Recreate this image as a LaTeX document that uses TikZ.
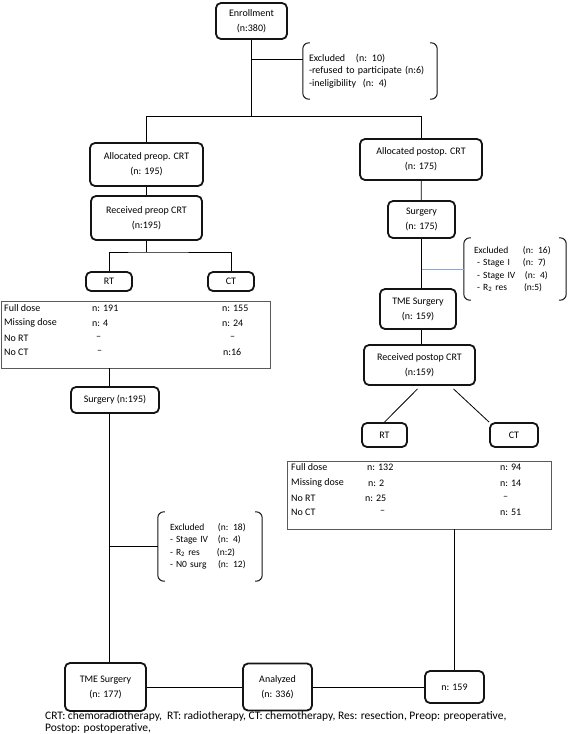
\documentclass[tikz,border=0pt]{standalone}
\usepackage{fontspec}
\setmainfont{Carlito}
\usepackage{tikz}
\definecolor{boxline}{RGB}{20,20,20}
\definecolor{tabline}{RGB}{90,90,90}
\definecolor{bluelink}{RGB}{140,168,206}

\tikzset{
  flowbox/.style={draw=boxline, line width=1.8pt, rounded corners=5pt, align=center,
    inner sep=2pt, font=\fontsize{10}{15}\selectfont},
  tabbox/.style={draw=tabline, line width=0.9pt, inner sep=0pt},
  excl/.style={align=left, inner ysep=0pt, font=\fontsize{9.5}{12.5}\selectfont},
  bracket/.style={draw=boxline, line width=1pt, rounded corners=6pt},
  cell/.style={anchor=west, inner sep=0pt, font=\fontsize{10}{12}\selectfont},
  lab/.style={cell},
  link/.style={black, line width=0.8pt},
}

% brackets on both sides of an exclusion note
\newcommand{\exclbrackets}[1]{%
  \draw[bracket] ([xshift=7pt]#1.north west) -- (#1.north west) -- (#1.south west) -- ([xshift=7pt]#1.south west);
  \draw[bracket] ([xshift=-7pt]#1.north east) -- (#1.north east) -- (#1.south east) -- ([xshift=-7pt]#1.south east);}

\begin{document}
\begin{tikzpicture}[x=1pt, y=-1pt]
    \useasboundingbox (0,0) rectangle (568,734);

    % top
    \node[flowbox, minimum width=71pt, minimum height=36pt] (enrol) at (251.5,21) {Enrollment\\(n:380)};
    \node[excl, font=\fontsize{10}{12.5}\selectfont, text width=122pt, inner xsep=6pt, minimum height=56pt] (exclTop) at (370,71)
        {\makebox[47pt][l]{Excluded}(n: 10)\\-refused to participate (n:6)\\-ineligibility\ \ (n: 4)};
    \exclbrackets{exclTop}
    \coordinate (split) at (251.5,116);
    \coordinate (exclTopIn) at (303,59);

    % preop arm
    \node[flowbox, minimum width=113pt, minimum height=43pt] (allocpre) at (146.5,164.5) {Allocated preop. CRT\\(n: 195)};
    \node[flowbox, minimum width=111pt, minimum height=44pt] (recvpre) at (146.5,218) {Received preop CRT\\(n:195)};
    \coordinate (lsplit) at (146.5,252);
    \node[flowbox, minimum width=46pt, minimum height=19pt] (rtL) at (109,281.5) {RT};
    \node[flowbox, minimum width=46pt, minimum height=19pt] (ctL) at (231,281.5) {CT};

    \node[tabbox, minimum width=269pt, minimum height=67pt] (tabL) at (135.5,334.5) {};
    \node[lab] (lFull) at (4,308) {Full dose};
    \node[lab] (lMiss) at (4,323) {Missing dose};
    \node[lab] (lNoRT) at (4,338) {No RT};
    \node[lab] (lNoCT) at (4,352) {No CT};
    \node[cell] (lFullRT) at (92,308) {n: 191};
    \node[cell] (lMissRT) at (92,323) {n: 4};
    \node[cell] (lNoRTRT) at (96,338) {\textendash};
    \node[cell] (lNoCTRT) at (97,352) {\textendash};
    \node[cell] (lFullCT) at (222,308) {n: 155};
    \node[cell] (lMissCT) at (222,323) {n: 24};
    \node[cell] (lNoRTCT) at (230,338) {\textendash};
    \node[cell] (lNoCTCT) at (223,352) {n:16};

    \node[flowbox, minimum width=88pt, minimum height=26pt] (surgL) at (115,400) {Surgery (n:195)};
    \node[excl, text width=80pt, inner xsep=12pt, minimum height=69pt] (exclL) at (210,546.5)
        {\makebox[48pt][l]{Excluded}(n: 18)\\\makebox[48pt][l]{- Stage IV}(n: 4)\\\makebox[47pt][l]{- R\textsubscript{2} res}(n:2)\\\makebox[48pt][l]{- N0 surg}(n: 12)};
    \exclbrackets{exclL}
    \node[flowbox, minimum width=81pt, minimum height=48pt] (tmeL) at (105.5,687) {TME Surgery\\(n: 177)};

    % postop arm
    \node[flowbox, minimum width=122pt, minimum height=41pt] (allocpost) at (421,159.5) {Allocated postop. CRT\\(n: 175)};
    \node[flowbox, minimum width=67pt, minimum height=37pt] (surgR) at (421.5,219.5) {Surgery\\(n: 175)};
    \node[excl, text width=82pt, inner xsep=10pt, minimum height=62pt] (exclR) at (515,269)
        {\makebox[49pt][l]{Excluded}(n: 16)\\\makebox[49pt][l]{\ -\ Stage I}(n: 7)\\\makebox[51pt][l]{\ -\ Stage IV}(n: 4)\\\makebox[50pt][l]{\ -\ R\textsubscript{2} res}(n:5)};
    \exclbrackets{exclR}
    \node[flowbox, minimum width=76pt, minimum height=40pt] (tmeR) at (418,309) {TME Surgery\\(n: 159)};
    \node[flowbox, minimum width=111pt, minimum height=40pt] (recvpost) at (419.5,365) {Received postop CRT\\(n:159)};
    \node[flowbox, minimum width=45pt, minimum height=24pt] (rtR) at (384.5,435) {RT};
    \node[flowbox, minimum width=48pt, minimum height=24pt] (ctR) at (514,435) {CT};

    \node[tabbox, minimum width=264pt, minimum height=68pt] (tabR) at (419,495) {};
    \node[lab] (rFull) at (291,467) {Full dose};
    \node[lab] (rMiss) at (291,483) {Missing dose};
    \node[lab] (rNoRT) at (291,498) {No RT};
    \node[lab] (rNoCT) at (291,512) {No CT};
    \node[cell] (rFullRT) at (367,467) {n: 132};
    \node[cell] (rMissRT) at (368,483) {n: 2};
    \node[cell] (rNoRTRT) at (365,498) {n: 25};
    \node[cell] (rNoCTRT) at (380,512) {\textendash};
    \node[cell] (rFullCT) at (500,467) {n: 94};
    \node[cell] (rMissCT) at (500,483) {n: 14};
    \node[cell] (rNoRTCT) at (503,498) {\textendash};
    \node[cell] (rNoCTCT) at (500,512) {n: 51};

    % bottom
    \node[flowbox, minimum width=69pt, minimum height=47pt] (analyzed) at (277.5,687) {Analyzed\\(n: 336)};
    \node[flowbox, minimum width=59pt, minimum height=32pt] (n159) at (454.5,687) {n: 159};
    \node[anchor=base west, align=left, inner sep=0pt, font=\fontsize{11.5}{12}\selectfont] (notes) at (45,731)
        {CRT: chemoradiotherapy,\ \ RT: radiotherapy, CT: chemotherapy, Res: resection, Preop: preoperative,\\Postop: postoperative,};

    % connectors
    \draw[link] (enrol) -- (split);
    \draw[link] (enrol.south |- exclTopIn) -- (exclTopIn);
    \draw[link] (allocpre.north) -- (allocpre.north |- split) -- (allocpost.north |- split) -- (allocpost.north);
    \draw[link] (allocpre) -- (recvpre);
    \draw[link] (recvpre) -- (lsplit);
    \draw[link] (rtL.north) |- (lsplit) -| (ctL.north);
    \draw[link] (tabL.south -| rtL) -- (surgL.north -| rtL);
    \draw[link] (surgL.south -| rtL) -- (tmeL.north -| rtL);
    \draw[link] (exclL.west -| rtL) -- (exclL.west);
    \draw[link] (allocpost) -- (surgR);
    \draw[link] (surgR.south) -- (tmeR.north -| surgR);
    \draw[bluelink, line width=0.9pt] (exclR.west -| surgR) -- (exclR.west);
    \draw[link] (tmeR.south -| surgR) -- (recvpost.north -| surgR);
    \draw[link] ([xshift=-2pt, yshift=-3pt]recvpost.south) -- (rtR.north);
    \draw[link] ([xshift=34pt, yshift=-3pt]recvpost.south) -- (ctR.north west);
    \draw[link] (tabR.south -| n159) -- (n159);
    \draw[link] (tmeL) -- (analyzed);
    \draw[link] (analyzed) -- (n159);
\end{tikzpicture}
\end{document}
